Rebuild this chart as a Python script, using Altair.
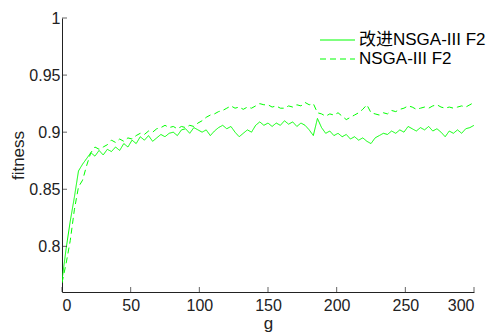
import altair as alt
import pandas as pd

gens = list(range(0, 301, 3))

improved = [
    0.770, 0.798, 0.822, 0.843, 0.866, 0.872, 0.877, 0.882, 0.879, 0.884,
    0.880, 0.885, 0.883, 0.887, 0.884, 0.890, 0.887, 0.893, 0.890, 0.896,
    0.893, 0.897, 0.892, 0.895, 0.898, 0.896, 0.899, 0.900, 0.897, 0.902,
    0.903, 0.899, 0.904, 0.902, 0.900, 0.902, 0.897, 0.901, 0.904, 0.906,
    0.903, 0.905, 0.900, 0.896, 0.899, 0.902, 0.900, 0.906, 0.909, 0.906,
    0.908, 0.905, 0.908, 0.906, 0.910, 0.907, 0.909, 0.905, 0.908, 0.906,
    0.902, 0.897, 0.912, 0.904, 0.899, 0.901, 0.897, 0.899, 0.896, 0.898,
    0.894, 0.896, 0.893, 0.895, 0.892, 0.890, 0.895, 0.897, 0.899, 0.898,
    0.901, 0.899, 0.902, 0.900, 0.905, 0.903, 0.901, 0.904, 0.902, 0.905,
    0.901, 0.903, 0.900, 0.896, 0.901, 0.899, 0.902, 0.899, 0.903, 0.904,
    0.906,
]

baseline = [
    0.768, 0.785, 0.805, 0.832, 0.852, 0.858, 0.871, 0.882, 0.887, 0.885,
    0.887, 0.889, 0.893, 0.891, 0.894, 0.892, 0.895, 0.894, 0.897, 0.899,
    0.898, 0.901, 0.900, 0.903, 0.904, 0.906, 0.904, 0.905, 0.903, 0.905,
    0.904, 0.906, 0.905, 0.908, 0.910, 0.913, 0.915, 0.916, 0.918, 0.919,
    0.921, 0.923, 0.921, 0.922, 0.920, 0.922, 0.921, 0.923, 0.925, 0.924,
    0.924, 0.922, 0.923, 0.921, 0.921, 0.923, 0.922, 0.924, 0.923, 0.926,
    0.924, 0.925, 0.917, 0.916, 0.914, 0.916, 0.915, 0.917, 0.914, 0.911,
    0.913, 0.915, 0.917, 0.920, 0.924, 0.917, 0.916, 0.915, 0.917, 0.916,
    0.919, 0.918, 0.920, 0.921, 0.923, 0.922, 0.920, 0.921, 0.922, 0.921,
    0.923, 0.924, 0.922, 0.921, 0.922, 0.921, 0.922, 0.923, 0.922, 0.924,
    0.926,
]

series_names = ["改进NSGA-III F2", "NSGA-III F2"]
x_ticks = [0, 50, 100, 150, 200, 250, 300]
y_ticks = [0.8, 0.85, 0.9, 0.95, 1.0]

df = pd.DataFrame({
    "g": gens * 2,
    "fitness": improved + baseline,
    "series": [series_names[0]] * len(gens) + [series_names[1]] * len(gens),
})
xt_df = pd.DataFrame({"g": x_ticks})
yt_df = pd.DataFrame({"fitness": y_ticks})

FONT = "Liberation Sans, Arial, Noto Sans CJK SC"
INK = "#222222"
GREEN = "#00ff00"
DASHES = [[1, 0], [6, 4]]

x_scale = alt.Scale(domain=[0, 300], nice=False, zero=False)
y_scale = alt.Scale(domain=[0.76, 1.0], nice=False, zero=False)

lines = alt.Chart(df).mark_line(strokeWidth=1, color=GREEN, clip=True).encode(
    x=alt.X("g:Q", scale=x_scale,
            axis=alt.Axis(values=x_ticks, title="g", tickSize=0, labelPadding=5,
                          titlePadding=2, grid=False)),
    y=alt.Y("fitness:Q", scale=y_scale,
            axis=alt.Axis(values=y_ticks, format="~g", title="fitness", tickSize=0,
                          labelPadding=2, titlePadding=1, grid=False)),
    strokeDash=alt.StrokeDash(
        "series:N",
        scale=alt.Scale(domain=series_names, range=DASHES),
        legend=None,
    ),
)

xticks = alt.Chart(xt_df).mark_tick(size=5, thickness=1, color=INK).encode(
    x=alt.X("g:Q", scale=x_scale),
    y=alt.value(271.5),
)

yticks = alt.Chart(yt_df).mark_tick(size=5, thickness=1, color=INK).encode(
    y=alt.Y("fitness:Q", scale=y_scale),
    x=alt.value(2.5),
)

# manual legend (one row per series)
legend_layers = []
for i, name in enumerate(series_names):
    row_df = pd.DataFrame({"series": [name]})
    ypos = 22 + 19 * i
    legend_layers.append(
        alt.Chart(row_df).mark_rule(color=GREEN, strokeWidth=1, strokeDash=DASHES[i]).encode(
            x=alt.value(258), x2=alt.value(293), y=alt.value(ypos)
        )
    )
    legend_layers.append(
        alt.Chart(row_df).mark_text(
            align="left", baseline="middle", font=FONT, fontSize=17, color="#000000"
        ).encode(text="series:N", x=alt.value(297), y=alt.value(ypos))
    )

chart = alt.layer(lines, xticks, yticks, *legend_layers).properties(
    width=412,
    height=274,
    background="white",
    autosize=alt.AutoSizeParams(type="none"),
    padding={"left": 62, "top": 18, "right": 17, "bottom": 43},
).configure_view(
    strokeWidth=0,
).configure_axis(
    domainColor=INK,
    domainWidth=1,
    labelFont=FONT,
    labelFontSize=16,
    labelColor=INK,
    titleFont=FONT,
    titleFontSize=17,
    titleFontWeight="normal",
    titleColor=INK,
)

chart.save("out.html", embed_options={"renderer": "svg", "actions": False})
